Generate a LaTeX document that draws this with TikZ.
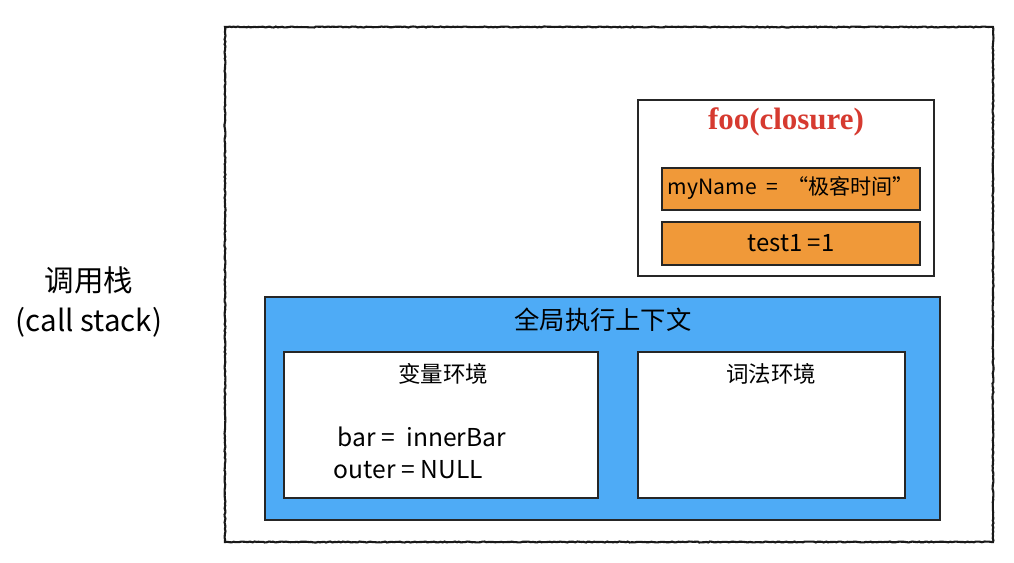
\documentclass[tikz,border=0pt]{standalone}
\usepackage{fontspec}
\setmainfont{Noto Sans CJK SC}
\newfontfamily\closurefont{Liberation Serif}
\usetikzlibrary{decorations.pathmorphing}
\definecolor{varorange}{RGB}{240,153,57}
\definecolor{ctxblue}{RGB}{78,171,246}
\definecolor{closurered}{RGB}{214,58,48}
\begin{document}
\begin{tikzpicture}[x=0.025cm,y=-0.025cm,every node/.style={font=\fontsize{16}{18}\selectfont},
  varbox/.style={draw=black!85,fill=varorange,thick},
  envbox/.style={draw=black!85,fill=white,thick}]
\useasboundingbox (0,0) rectangle (1014,562);
% call stack frame
\draw[black!90,line width=1.5pt,decorate,decoration={random steps,segment length=1.5pt,amplitude=0.35pt}] (225,27) rectangle (993,542);
\node[font=\fontsize{21}{24}\selectfont] (stackzh) at (89,280) {调用栈};
\node[font=\fontsize{21}{24}\selectfont] (stacken) at (89,322) {(call stack)};
% closure of foo
\draw[envbox] (638,100) rectangle (934,276);
\node[font=\closurefont\bfseries\fontsize{22}{24}\selectfont,text=closurered] (foo) at (786,122) {foo(closure)};
\draw[varbox] (662,168) rectangle (920,210);
\node[font=\fontsize{15}{17}\selectfont] (myname) at (791,188) {myName\ \ =\ \ “极客时间”};
\draw[varbox] (662,222) rectangle (920,265);
\node[font=\fontsize{17}{19}\selectfont] (testone) at (791,243) {test1 =1};
% global execution context
\draw[envbox,fill=ctxblue] (265,297) rectangle (940,520);
\node[font=\fontsize{18}{20}\selectfont] (global) at (603,320) {全局执行上下文};
\draw[envbox] (284,352) rectangle (598,498);
\node[font=\fontsize{16}{18}\selectfont] (varenv) at (443,374) {变量环境};
\node[anchor=west,font=\fontsize{17.5}{20}\selectfont] (bar) at (333,437) {bar =\ \ innerBar};
\node[anchor=west,font=\fontsize{17.5}{20}\selectfont] (outer) at (329,470) {outer = NULL};
\draw[envbox] (638,352) rectangle (905,498);
\node[font=\fontsize{16}{18}\selectfont] (lexenv) at (771,374) {词法环境};
\end{tikzpicture}
\end{document}
